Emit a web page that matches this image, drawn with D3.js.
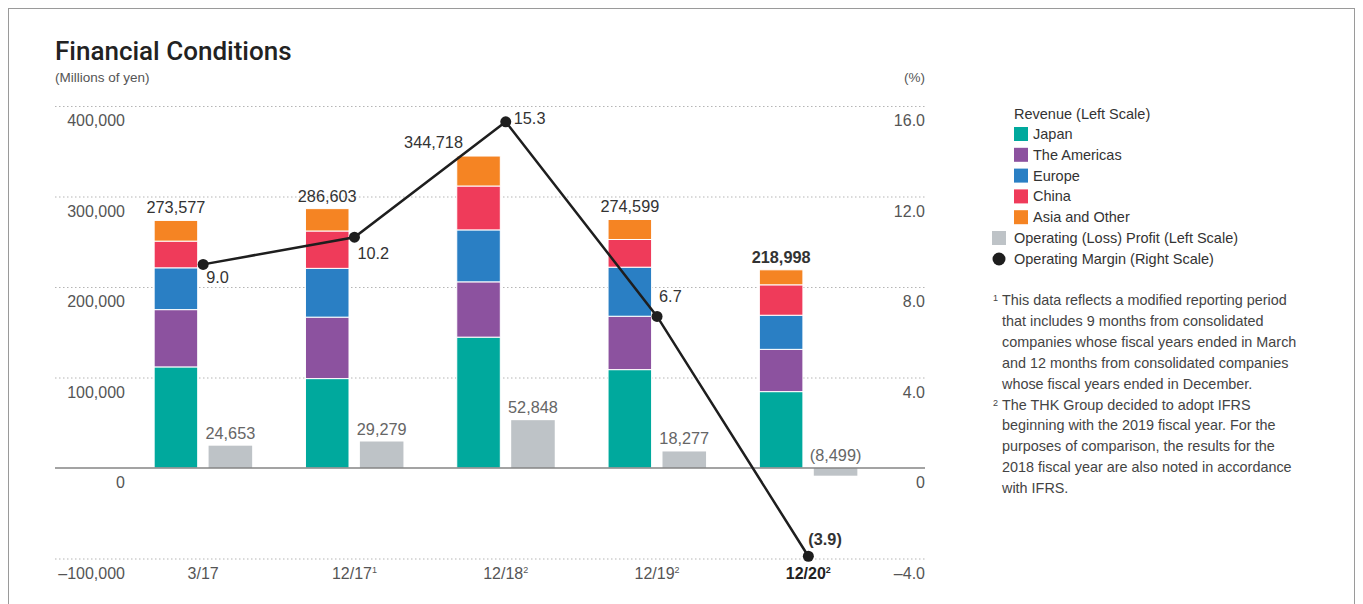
<!DOCTYPE html>
<html>
<head>
<meta charset="utf-8">
<script src="https://cdn.jsdelivr.net/npm/d3@7"></script>
<style>
  body { margin: 0; background: #fff; }
  svg { font-family: "Liberation Sans", Arial, sans-serif; }
  .tick-label { fill: #555; font-size: 16px; }
  .val { fill: #333; font-size: 16.3px; }
  .legend { fill: #333; font-size: 14.5px; }
  .note { fill: #444; font-size: 14.4px; }
</style>
</head>
<body>
<div id="chart"></div>
<script>
// categories and values
var years = ["3/17", "12/17", "12/18", "12/19", "12/20"]
var yearSup = ["", "1", "2", "2", "2"]
var regions = ["Japan", "The Americas", "Europe", "China", "Asia and Other"]
var japan    = [111700,  98800, 144600, 108700, 84400]
var americas = [ 63300,  67900,  61100,  59000, 46700]
var europe   = [ 46200,  53900,  57400,  54200, 37700]
var china    = [ 29500,  41300,  48500,  30600, 33600]
var asia     = [ 22877,  24703,  33118,  22099, 16598]
var revenueTotal = [273577, 286603, 344718, 274599, 218998]
var opProfit = [24653, 29279, 52848, 18277, -8499]
var opMargin = [9.0, 10.2, 15.3, 6.7, -3.9]
var leftTicks = [-100000, 0, 100000, 200000, 300000, 400000]
var rightTicks = [-4, 0, 4, 8, 12, 16]

var COLORS = ["#00a99d", "#8c529f", "#2a7fc4", "#ef3b5a", "#f58423"]
var PROFIT_COLOR = "#bec3c7"
var LINE_COLOR = "#1e1e1e"
var notes = [
    ["1", "This data reflects a modified reporting period",
          "that includes 9 months from consolidated",
          "companies whose fiscal years ended in March",
          "and 12 months from consolidated companies",
          "whose fiscal years ended in December."],
    ["2", "The THK Group decided to adopt IFRS",
          "beginning with the 2019 fiscal year. For the",
          "purposes of comparison, the results for the",
          "2018 fiscal year are also noted in accordance",
          "with IFRS."]
]

var width = 1363, height = 604
var svg = d3.select("#chart").append("svg")
    .attr("width", width)
    .attr("height", height)

svg.append("rect")
    .attr("x", 8.5).attr("y", 8.5)
    .attr("width", 1346).attr("height", 640)
    .attr("fill", "none")
    .attr("stroke", "#9a9a9a")

svg.append("text")
    .attr("x", 55).attr("y", 60)
    .style("font-family", "Roboto, 'Liberation Sans', sans-serif")
    .style("font-size", "26px")
    .style("font-weight", 500)
    .style("fill", "#222")
    .text("Financial Conditions")

svg.append("text")
    .attr("x", 55).attr("y", 82)
    .style("font-size", "13.5px")
    .style("fill", "#555")
    .text("(Millions of yen)")

svg.append("text")
    .attr("x", 925).attr("y", 82)
    .style("font-size", "13.5px")
    .style("fill", "#555")
    .style("text-anchor", "end")
    .text("(%)")

var plotLeft = 55, plotRight = 925

var y = d3.scaleLinear().domain([-100000, 400000]).range([558.5, 106])
var yR = d3.scaleLinear().domain([-4, 16]).range([558.5, 106])
var x = d3.scaleBand().domain(years).range([127.5, 884]).paddingInner(0)
var sub = d3.scaleBand().domain(["rev", "op"]).range([-49, 49]).paddingInner(0.2)
var cx = d => x(d) + x.bandwidth() / 2

// grid lines
svg.selectAll(".grid")
    .data(leftTicks.filter(t => t !== 0))
    .enter().append("line")
    .attr("class", "grid")
    .attr("x1", plotLeft).attr("x2", plotRight)
    .attr("y1", d => y(d) + 0.5).attr("y2", d => y(d) + 0.5)
    .attr("stroke", "#b5b5b5")
    .attr("stroke-width", 1)
    .attr("stroke-dasharray", "1.5,2.5")

svg.selectAll(".lt")
    .data(leftTicks)
    .enter().append("text")
    .attr("class", "tick-label")
    .attr("x", 125)
    .attr("y", d => y(d) + 20)
    .style("text-anchor", "end")
    .text(d => d < 0 ? "\u2013" + d3.format(",")(-d) : d3.format(",")(d))

svg.selectAll(".rt")
    .data(rightTicks)
    .enter().append("text")
    .attr("class", "tick-label")
    .attr("x", 925)
    .attr("y", d => yR(d) + 20)
    .style("text-anchor", "end")
    .text(d => d === 0 ? "0" : (d < 0 ? "\u2013" + (-d).toFixed(1) : d.toFixed(1)))

// stacked revenue
var rows = years.map((yr, i) => ({
    year: yr,
    "Japan": japan[i], "The Americas": americas[i], "Europe": europe[i],
    "China": china[i], "Asia and Other": asia[i]
}))
var stack = d3.stack().keys(regions)(rows)
var color = d3.scaleOrdinal().domain(regions).range(COLORS)

svg.append("g").selectAll("g")
    .data(stack)
    .enter().append("g")
    .attr("fill", d => color(d.key))
    .selectAll("rect")
    .data(d => d)
    .enter().append("rect")
    .attr("x", d => cx(d.data.year) + sub("rev"))
    .attr("y", d => y(d[1]))
    .attr("width", sub.bandwidth())
    .attr("height", d => y(d[0]) - y(d[1]))
    .attr("stroke", "#fff")
    .attr("stroke-width", 1)

// operating profit bars
svg.append("g").selectAll("rect")
    .data(opProfit)
    .enter().append("rect")
    .attr("x", (d, i) => cx(years[i]) + sub("op"))
    .attr("y", d => y(Math.max(0, d)))
    .attr("width", sub.bandwidth())
    .attr("height", d => Math.abs(y(d) - y(0)))
    .attr("fill", PROFIT_COLOR)

// zero line
svg.append("line")
    .attr("x1", plotLeft).attr("x2", plotRight)
    .attr("y1", y(0)).attr("y2", y(0))
    .attr("stroke", "#858585")
    .attr("stroke-width", 1.6)

// revenue total labels
var totalNudge = { "12/18": [-45, -1] }
svg.selectAll(".tot")
    .data(revenueTotal)
    .enter().append("text")
    .attr("class", "val")
    .attr("x", (d, i) => cx(years[i]) + sub("rev") + sub.bandwidth() / 2 + ((totalNudge[years[i]] || [0, 0])[0]))
    .attr("y", (d, i) => y(d) - 7 + ((totalNudge[years[i]] || [0, 0])[1]))
    .style("text-anchor", "middle")
    .style("font-weight", (d, i) => i === years.length - 1 ? "bold" : "normal")
    .text(d => d3.format(",")(d))

// profit labels
svg.selectAll(".opl")
    .data(opProfit)
    .enter().append("text")
    .attr("class", "val")
    .attr("x", (d, i) => cx(years[i]) + sub("op") + sub.bandwidth() / 2)
    .attr("y", d => y(Math.max(0, d)) - 7)
    .style("text-anchor", "middle")
    .style("fill", "#666")
    .text(d => d < 0 ? "(" + d3.format(",")(-d) + ")" : d3.format(",")(d))

// margin line
var line = d3.line().x((d, i) => cx(years[i])).y(d => yR(d))
svg.append("path")
    .datum(opMargin)
    .attr("d", line)
    .attr("fill", "none")
    .attr("stroke", LINE_COLOR)
    .attr("stroke-width", 2.5)

svg.selectAll(".dot")
    .data(opMargin)
    .enter().append("circle")
    .attr("cx", (d, i) => cx(years[i]))
    .attr("cy", d => yR(d))
    .attr("r", 5.5)
    .attr("fill", LINE_COLOR)

var marginNudge = [[3, 19], [3, 22], [8, 2], [2, -14], [0, -11]]
svg.selectAll(".ml")
    .data(opMargin)
    .enter().append("text")
    .attr("class", "val")
    .attr("x", (d, i) => cx(years[i]) + marginNudge[i][0])
    .attr("y", (d, i) => yR(d) + marginNudge[i][1])
    .style("font-weight", d => d < 0 ? "bold" : "normal")
    .text(d => d < 0 ? "(" + (-d).toFixed(1) + ")" : d.toFixed(1))

// x axis labels
var xl = svg.selectAll(".xl")
    .data(years)
    .enter().append("text")
    .attr("class", "tick-label")
    .attr("x", d => cx(d))
    .attr("y", y(-100000) + 20)
    .style("text-anchor", "middle")
    .style("font-weight", (d, i) => i === years.length - 1 ? "bold" : "normal")
    .style("fill", (d, i) => i === years.length - 1 ? "#222" : "#555")
xl.append("tspan").text(d => d)
xl.append("tspan")
    .attr("dy", -6)
    .style("font-size", "9px")
    .text((d, i) => yearSup[i])

// legend
var lg = svg.append("g")
lg.append("text").attr("class", "legend")
    .attr("x", 1014).attr("y", 119)
    .text("Revenue (Left Scale)")
regions.forEach((r, i) => {
    var yy = 134 + i * 20.8
    lg.append("rect")
        .attr("x", 1014).attr("y", yy - 7)
        .attr("width", 14).attr("height", 14)
        .attr("fill", COLORS[i])
    lg.append("text").attr("class", "legend")
        .attr("x", 1033).attr("y", yy + 5)
        .text(r)
})
lg.append("rect")
    .attr("x", 992).attr("y", 238 - 7)
    .attr("width", 14).attr("height", 14)
    .attr("fill", PROFIT_COLOR)
lg.append("text").attr("class", "legend")
    .attr("x", 1014).attr("y", 243)
    .text("Operating (Loss) Profit (Left Scale)")
lg.append("circle")
    .attr("cx", 999).attr("cy", 259)
    .attr("r", 6.5)
    .attr("fill", LINE_COLOR)
lg.append("text").attr("class", "legend")
    .attr("x", 1014).attr("y", 264)
    .text("Operating Margin (Right Scale)")

// footnotes
var ny = 305
notes.forEach(n => {
    svg.append("text").attr("class", "note")
        .attr("x", 993).attr("y", ny - 4)
        .style("font-size", "9px")
        .text(n[0])
    n.slice(1).forEach(t => {
        svg.append("text").attr("class", "note")
            .attr("x", 1002).attr("y", ny)
            .text(t)
        ny += 20.9
    })
})
</script>
</body>
</html>
